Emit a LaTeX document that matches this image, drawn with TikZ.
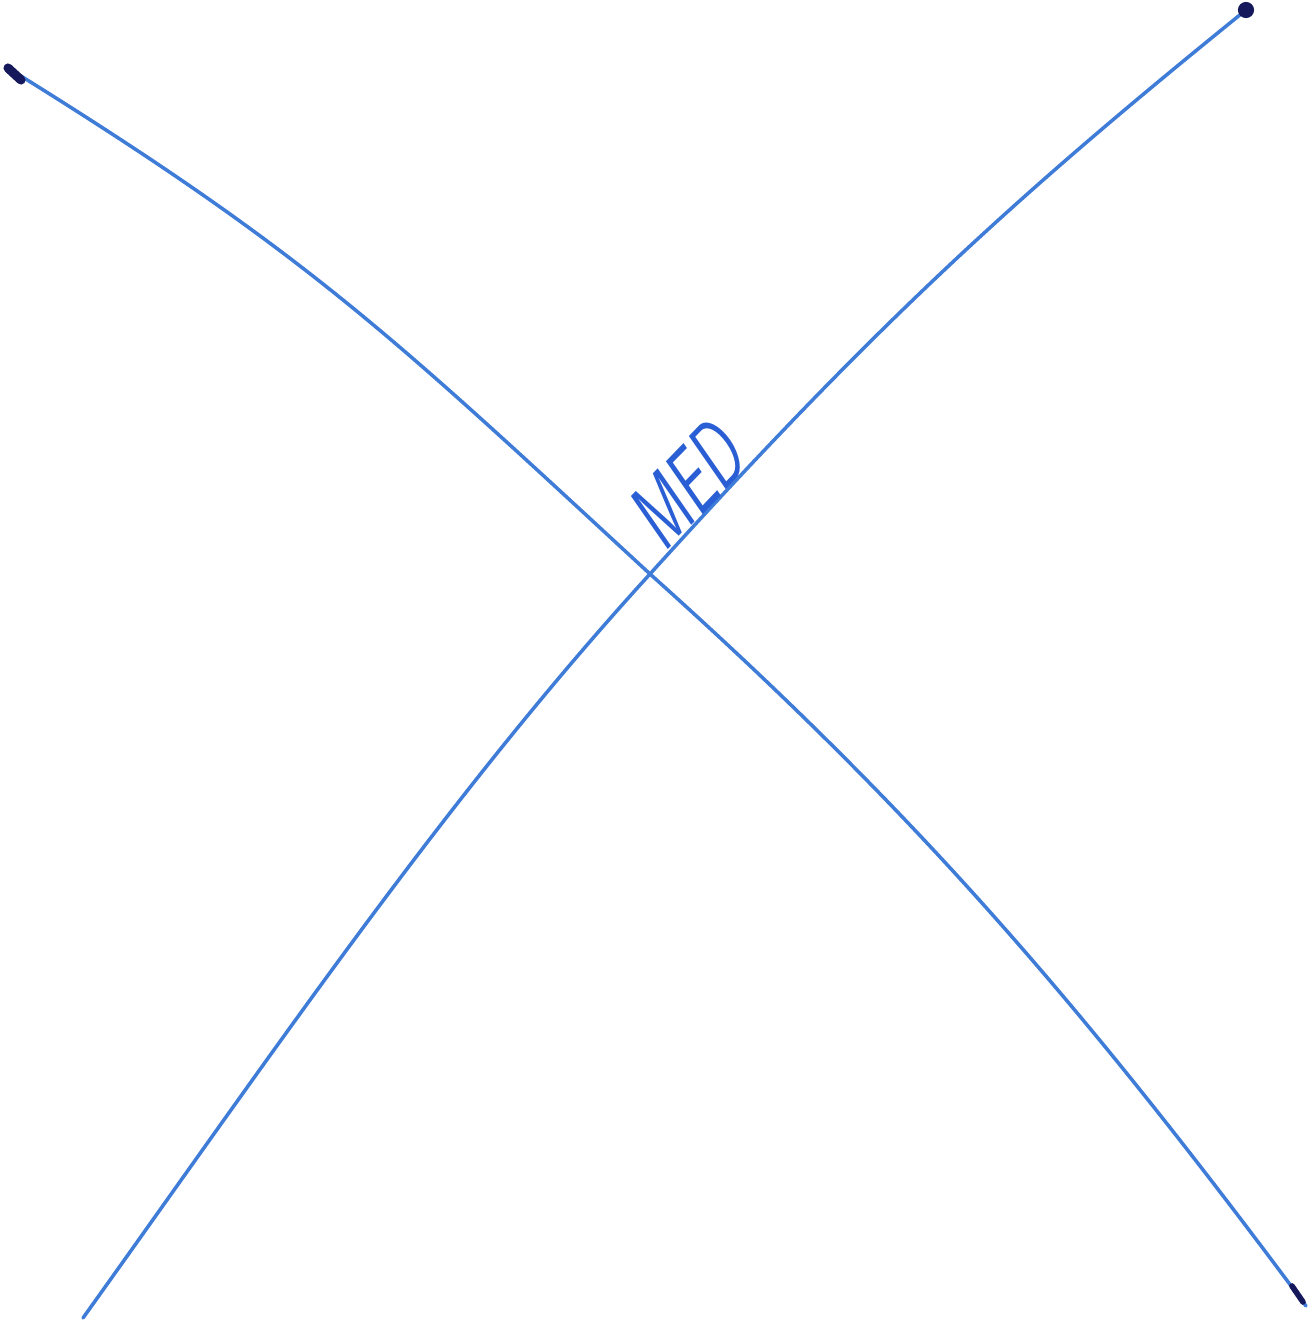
\documentclass[tikz,border=0pt]{standalone}
\usepackage{fontspec}
\definecolor{penblue}{RGB}{62,124,216}
\definecolor{inkblue}{RGB}{42,94,212}
\definecolor{blobink}{RGB}{22,24,92}
\begin{document}
\begin{tikzpicture}[
    stroke/.style={penblue, line width=1pt, line cap=round},
    blob/.style={blobink, line cap=round},
    tag/.style={inkblue, inner sep=0pt, anchor=base, rotate=46, xscale=0.66, xslant=0.3,
        font=\fontsize{26}{26}\selectfont\sffamily}
]
    % Rahmen
    \useasboundingbox (0,0) rectangle (13.12,13.24);

    % Endpunkte und Kreuzung
    \coordinate (tl) at (0.08,12.56);
    \coordinate (br) at (13.06,0.18);
    \coordinate (bl) at (0.83,0.06);
    \coordinate (tr) at (12.46,13.14);
    \coordinate (cross) at (6.50,7.50);

    % erste Linie (links oben nach rechts unten)
    \draw[stroke] (tl) .. controls (3.08,10.70) and (3.90,9.90) .. (cross)
        .. controls (9.10,5.17) and (10.76,3.28) .. (br);

    % zweite Linie (links unten nach rechts oben)
    \draw[stroke] (bl) .. controls (2.83,2.86) and (4.49,5.30) .. (cross)
        .. controls (8.79,10.03) and (10.16,11.28) .. (tr);

    % Tintenpunkte an den Enden
    \draw[blob, line width=2.6pt] (tl) -- ++(0.13,-0.12);
    \fill[blob] (tr) circle (2.3pt);
    \draw[blob, line width=1.6pt] (12.92,0.38) -- (13.03,0.22);

    % Beschriftung
    \node[tag] (med) at (7.08,8.15) {MED};
\end{tikzpicture}
\end{document}
